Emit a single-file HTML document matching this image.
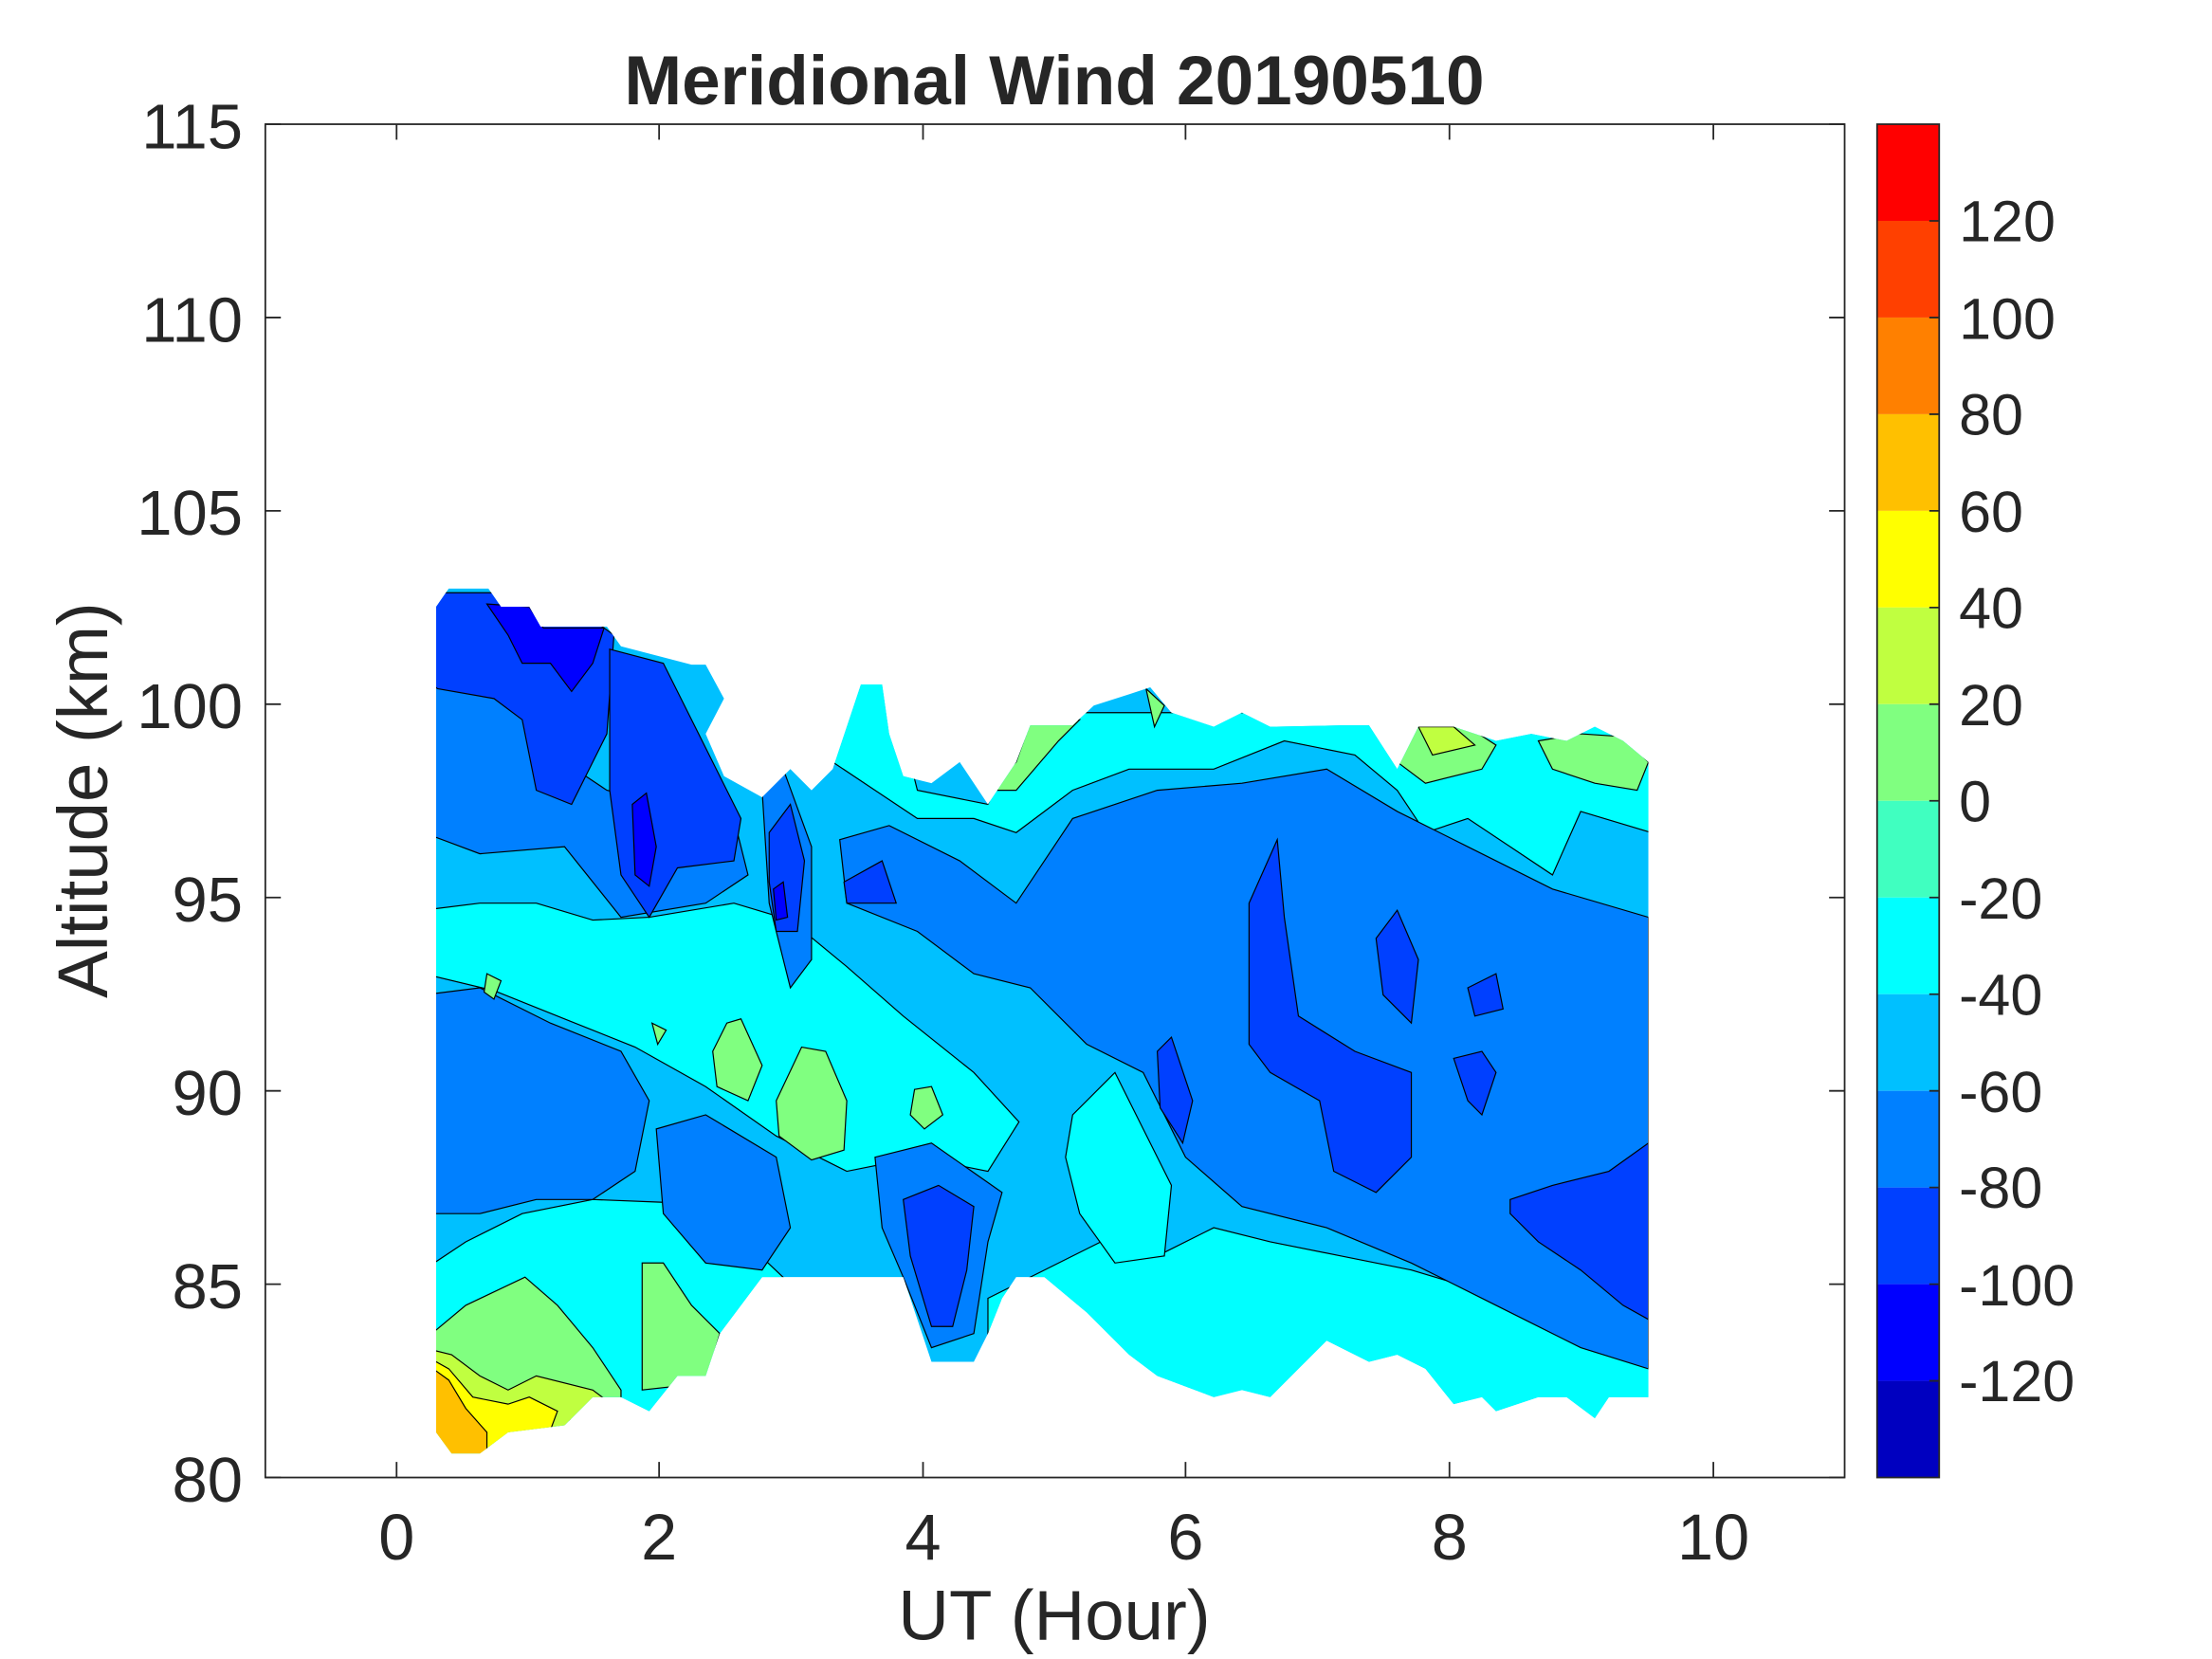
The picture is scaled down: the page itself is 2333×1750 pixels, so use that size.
<!DOCTYPE html>
<html><head><style>
html,body{margin:0;padding:0;background:#fff;width:2333px;height:1750px;overflow:hidden}
svg{display:block}
text{font-family:"Liberation Sans",sans-serif;fill:#262626}
</style></head><body>
<svg width="2333" height="1750" viewBox="0 0 1567.3 1175.6" xmlns="http://www.w3.org/2000/svg">
<defs><clipPath id="reg"><path d="M309,430 L318,417 L346,417 L355,430 L375,430 L383,444 L430,444 L440,458 L490,471 L500,471 L513,495 L500,520 L513,550 L540,565 L560,545 L575,560 L590,545 L610,485 L625,485 L630,520 L640,550 L660,555 L680,540 L700,570 L720,540 L730,514 L760,514 L775,500 L800,492 L815,487 L830,505 L860,515 L880,505 L900,515 L950,514 L970,514 L990,545 L1005,515 L1030,515 L1060,525 L1085,520 L1110,525 L1130,515 L1150,525 L1168,540 L1168,990 L1140,990 L1130,1005 L1110,990 L1090,990 L1060,1000 L1050,990 L1030,995 L1010,970 L990,960 L970,965 L940,950 L920,970 L900,990 L880,985 L860,990 L820,975 L800,960 L770,930 L740,905 L720,905 L710,920 L700,945 L690,965 L660,965 L640,905 L540,905 L510,945 L500,975 L480,975 L460,1000 L440,990 L420,990 L400,1010 L360,1015 L340,1030 L320,1030 L309,1015 Z"/></clipPath></defs>
<rect x="188" y="88" width="1119" height="959" fill="#fff"/>
<g clip-path="url(#reg)" stroke="#000" stroke-width="0.8">
<rect x="300" y="400" width="880" height="640" fill="#00c0ff"/>
<path fill="#00ffff" d="M590,540 L610,480 L630,480 L650,560 L700,570 L730,505 L1170,505 L1170,590 L1120,575 L1100,620 L1070,600 L1040,580 L1010,590 L990,560 L960,535 L910,525 L860,545 L800,545 L760,560 L720,590 L690,580 L650,580 L620,560 Z"/>
<path fill="#00ffff" d="M300,645 L340,640 L380,640 L420,652 L460,650 L520,640 L560,652 L600,685 L640,720 L690,760 L722,795 L700,830 L650,820 L600,830 L550,805 L500,770 L450,742 L400,722 L350,702 L300,690 Z"/>
<path fill="#00ffff" d="M300,900 L330,880 L370,860 L420,850 L470,852 L520,872 L560,910 L520,960 L470,1020 L300,1040 Z"/>
<path fill="#00ffff" d="M700,920 L740,900 L780,880 L820,890 L860,870 L900,880 L950,890 L1000,900 L1050,915 L1100,935 L1170,965 L1170,1010 L700,1010 Z"/>
<path fill="#00ffff" d="M760,790 L790,760 L810,800 L830,840 L825,890 L790,895 L765,860 L755,820 Z"/>
<path fill="#0080ff" d="M300,480 L340,480 L370,500 L400,540 L430,560 L470,570 L520,580 L530,620 L500,640 L440,650 L400,600 L340,605 L300,590 Z"/>
<path fill="#0080ff" d="M595,595 L630,585 L680,610 L720,640 L760,580 L820,560 L880,555 L940,545 L990,575 L1040,600 L1100,630 L1168,650 L1168,970 L1120,955 L1060,925 L1000,895 L940,870 L880,855 L840,820 L810,760 L770,740 L730,700 L690,690 L650,660 L600,640 Z"/>
<path fill="#0080ff" d="M300,705 L340,700 L390,725 L440,745 L460,780 L450,830 L420,850 L380,850 L340,860 L300,860 Z"/>
<path fill="#0080ff" d="M465,800 L500,790 L550,820 L560,870 L540,900 L500,895 L470,860 Z"/>
<path fill="#0080ff" d="M620,820 L660,810 L710,845 L700,880 L690,945 L660,955 L640,905 L625,870 Z"/>
<path fill="#0080ff" d="M540,560 L555,545 L575,600 L575,680 L560,700 L545,640 Z"/>
<path fill="#0040ff" d="M300,420 L360,420 L400,425 L435,450 L430,520 L405,570 L380,560 L370,510 L350,495 L310,488 L300,480 Z"/>
<path fill="#0040ff" d="M432,460 L470,470 L495,520 L525,580 L520,610 L480,615 L460,650 L440,620 L432,560 Z"/>
<path fill="#0040ff" d="M545,590 L560,570 L570,610 L565,660 L550,660 L545,625 Z"/>
<path fill="#0040ff" d="M598,625 L625,610 L635,640 L600,640 Z"/>
<path fill="#0040ff" d="M885,640 L905,595 L910,650 L920,720 L960,745 L1000,760 L1000,820 L975,845 L945,830 L935,780 L900,760 L885,740 Z"/>
<path fill="#0040ff" d="M975,665 L990,645 L1005,680 L1000,725 L980,705 Z"/>
<path fill="#0040ff" d="M820,745 L830,735 L845,780 L838,810 L822,785 Z"/>
<path fill="#0040ff" d="M1070,850 L1100,840 L1140,830 L1168,810 L1168,935 L1150,925 L1120,900 L1090,880 L1070,860 Z"/>
<path fill="#0040ff" d="M640,850 L665,840 L690,855 L685,900 L675,940 L660,940 L645,890 Z"/>
<path fill="#0040ff" d="M1040,700 L1060,690 L1065,715 L1045,720 Z"/>
<path fill="#0040ff" d="M1030,750 L1050,745 L1060,760 L1050,790 L1040,780 Z"/>
<path fill="#0000ff" d="M345,428 L375,430 L385,445 L428,445 L420,470 L405,490 L390,470 L370,470 L360,450 Z"/>
<path fill="#0000ff" d="M448,570 L458,562 L465,600 L460,628 L450,620 Z"/>
<path fill="#0000ff" d="M548,630 L555,625 L558,650 L550,652 Z"/>
<path fill="#80ff80" d="M515,725 L525,722 L540,755 L530,780 L508,770 L505,745 Z"/>
<path fill="#80ff80" d="M568,742 L585,745 L600,780 L598,815 L575,822 L552,805 L550,780 Z"/>
<path fill="#80ff80" d="M648,772 L660,770 L668,790 L655,800 L645,790 Z"/>
<path fill="#80ff80" d="M345,690 L355,695 L350,708 L343,703 Z"/>
<path fill="#80ff80" d="M462,725 L472,730 L466,740 Z"/>
<path fill="#80ff80" d="M300,950 L330,925 L372,905 L395,925 L420,955 L440,985 L440,1005 L300,1010 Z"/>
<path fill="#80ff80" d="M455,895 L470,895 L490,925 L510,945 L500,980 L455,985 Z"/>
<path fill="#80ff80" d="M700,560 L720,540 L730,512 L765,510 L750,525 L720,560 Z"/>
<path fill="#80ff80" d="M990,540 L1000,515 L1040,515 L1060,528 L1050,545 L1010,555 Z"/>
<path fill="#80ff80" d="M1090,525 L1120,520 L1150,522 L1168,540 L1160,560 L1130,555 L1100,545 Z"/>
<path fill="#80ff80" d="M812,488 L825,500 L818,515 Z"/>
<path fill="#c0ff40" d="M300,955 L320,960 L340,975 L360,985 L380,975 L420,985 L440,1000 L440,1040 L300,1040 Z"/>
<path fill="#c0ff40" d="M1005,515 L1030,515 L1045,528 L1015,535 Z"/>
<path fill="#ffff00" d="M300,960 L318,970 L335,990 L360,995 L375,990 L395,1000 L380,1040 L300,1040 Z"/>
<path fill="#ffc000" d="M300,965 L318,978 L330,998 L345,1015 L345,1040 L300,1040 Z"/>
</g>
<rect x="188" y="88" width="1119" height="959" fill="none" stroke="#262626" stroke-width="1.2"/>
<g stroke="#262626" stroke-width="1.2">
<path d="M281,1047v-11M467,1047v-11M654,1047v-11M840,1047v-11M1027,1047v-11M1214,1047v-11"/>
<path d="M281,88v11M467,88v11M654,88v11M840,88v11M1027,88v11M1214,88v11"/>
<path d="M188,88h11M188,225h11M188,362h11M188,499h11M188,636h11M188,773h11M188,910h11M188,1047h11"/>
<path d="M1307,88h-11M1307,225h-11M1307,362h-11M1307,499h-11M1307,636h-11M1307,773h-11M1307,910h-11M1307,1047h-11"/>
</g>
<g font-size="45" text-anchor="end">
<text x="172" y="105">115</text><text x="172" y="242">110</text><text x="172" y="379">105</text><text x="172" y="516">100</text>
<text x="172" y="653">95</text><text x="172" y="790">90</text><text x="172" y="927">85</text><text x="172" y="1064">80</text>
</g>
<g font-size="46" text-anchor="middle">
<text x="281" y="1105">0</text><text x="467" y="1105">2</text><text x="654" y="1105">4</text><text x="840" y="1105">6</text><text x="1027" y="1105">8</text><text x="1214" y="1105">10</text>
<text x="747" y="1162" font-size="50">UT (Hour)</text>
</g>
<text x="76" y="567" font-size="50" text-anchor="middle" transform="rotate(-90 76 567)">Altitude (km)</text>
<text x="747" y="74" font-size="49" font-weight="bold" text-anchor="middle" fill="#000">Meridional Wind 20190510</text>
<g>
<rect x="1330" y="88" width="44" height="68.5" fill="#ff0000"/>
<rect x="1330" y="156.5" width="44" height="68.5" fill="#ff4000"/>
<rect x="1330" y="225" width="44" height="68.5" fill="#ff8000"/>
<rect x="1330" y="293.5" width="44" height="68.5" fill="#ffc000"/>
<rect x="1330" y="362" width="44" height="68.5" fill="#ffff00"/>
<rect x="1330" y="430.5" width="44" height="68.5" fill="#c0ff40"/>
<rect x="1330" y="499" width="44" height="68.5" fill="#80ff80"/>
<rect x="1330" y="567.5" width="44" height="68.5" fill="#40ffc0"/>
<rect x="1330" y="636" width="44" height="68.5" fill="#00ffff"/>
<rect x="1330" y="704.5" width="44" height="68.5" fill="#00c0ff"/>
<rect x="1330" y="773" width="44" height="68.5" fill="#0080ff"/>
<rect x="1330" y="841.5" width="44" height="68.5" fill="#0040ff"/>
<rect x="1330" y="910" width="44" height="68.5" fill="#0000ff"/>
<rect x="1330" y="978.5" width="44" height="68.5" fill="#0000c0"/>
<rect x="1330" y="88" width="44" height="959" fill="none" stroke="#262626" stroke-width="1.2"/>
<path stroke="#262626" stroke-width="1.2" d="M1374,156.5h-7M1374,225h-7M1374,293.5h-7M1374,362h-7M1374,430.5h-7M1374,499h-7M1374,567.5h-7M1374,636h-7M1374,704.5h-7M1374,773h-7M1374,841.5h-7M1374,910h-7M1374,978.5h-7"/>
</g>
<g font-size="41">
<text x="1388" y="171">120</text><text x="1388" y="240">100</text><text x="1388" y="308">80</text><text x="1388" y="377">60</text>
<text x="1388" y="445">40</text><text x="1388" y="514">20</text><text x="1388" y="582">0</text><text x="1388" y="651">-20</text>
<text x="1388" y="719">-40</text><text x="1388" y="788">-60</text><text x="1388" y="856">-80</text><text x="1388" y="925">-100</text>
<text x="1388" y="993">-120</text>
</g>
</svg>
</body></html>
